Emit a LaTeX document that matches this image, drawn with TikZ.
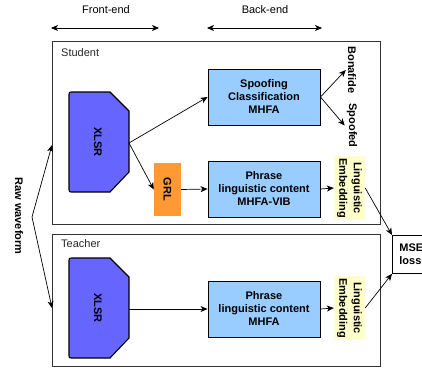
\documentclass[tikz,border=0pt]{standalone}
\usepackage{fontspec}
\setmainfont{Liberation Sans}
\usetikzlibrary{arrows.meta,positioning}
\definecolor{xlsrblue}{HTML}{6666FF}
\definecolor{mhfablue}{HTML}{99CCFF}
\definecolor{grlorange}{HTML}{FF9933}
\definecolor{embyellow}{HTML}{FFFFCC}
\tikzset{>={Stealth[length=7pt,width=6pt,inset=2pt]}}
\tikzset{font=\fontsize{11}{13}\selectfont}
\tikzset{
  stagebox/.style={draw=black!80, line width=0.9pt, minimum width=328, inner sep=0pt, anchor=north west},
  xlsrshape/.style={draw, line width=1.1pt, fill=xlsrblue},
  mhfabox/.style={draw, line width=0.9pt, fill=mhfablue, minimum width=112,
    minimum height=56, align=center, font=\fontsize{11}{13}\selectfont\bfseries, inner sep=0pt},
  grlbox/.style={fill=grlorange, rotate=-90, minimum width=53, minimum height=27,
    font=\fontsize{11}{13}\selectfont\bfseries, inner sep=0pt},
  embbox/.style={fill=embyellow, rotate=-90, minimum width=64, minimum height=31, align=center,
    font=\fontsize{11}{14.5}\selectfont\bfseries, inner sep=0pt},
  sidelabel/.style={rotate=-90, font=\fontsize{11}{13}\selectfont\bfseries, inner sep=2pt},
  conn/.style={->, line width=0.7pt},
}
\begin{document}
\begin{tikzpicture}[x=1pt, y=-1pt]
  \clip (0,0) rectangle (422,372);
  \useasboundingbox (0,0) rectangle (422,372);
  % front-end / back-end spans
  \node (fe) at (106,10) {Front-end};
  \node (be) at (265,10) {Back-end};
  \coordinate (feL) at (51,28);
  \coordinate (feR) at (159,28);
  \coordinate (beL) at (207,28);
  \coordinate (beR) at (322,28);
  \draw[<->, line width=0.7pt] (feL) -- (feR);
  \draw[<->, line width=0.7pt] (beL) -- (beR);
  % student and teacher frames
  \node[stagebox, minimum height=183] (student) at (52,41) {};
  \node[stagebox, minimum height=132] (teacher) at (52,234) {};
  \node[anchor=west, inner sep=0pt, text=black!85] (studentlbl) at (61,53) {Student};
  \node[anchor=west, inner sep=0pt, text=black!85] (teacherlbl) at (61,244) {Teacher};
  % XLSR front-ends
  \draw[xlsrshape] (73,92) -- (110,92) -- (129,111) -- (129,172) -- (110,192) -- (73,192)
    .. controls (69,192) .. (69,188) -- (69,96) .. controls (69,92) .. (73,92) -- cycle;
  \node[sidelabel] (xlsrS) at (98,142) {XLSR};
  \coordinate (xlsrSout) at (129,143);
  \begin{scope}[shift={(0,166)}]
    \draw[xlsrshape] (73,92) -- (110,92) -- (129,111) -- (129,172) -- (110,192) -- (73,192)
      .. controls (69,192) .. (69,188) -- (69,96) .. controls (69,92) .. (73,92) -- cycle;
    \node[sidelabel] (xlsrT) at (98,142) {XLSR};
    \coordinate (xlsrTout) at (129,143);
  \end{scope}
  % back-ends
  \node[mhfabox] (spoof) at (264,97) {Spoofing\\Classification\\MHFA};
  \node[mhfabox] (phraseS) at (264,189) {Phrase\\linguistic content\\MHFA-VIB};
  \node[mhfabox] (phraseT) at (264,309) {Phrase\\linguistic content\\MHFA};
  \node[grlbox] (grl) at (167.5,189.5) {GRL};
  \node[embbox] (embS) at (349.5,188) {Linguistic\\Embedding};
  \node[embbox] (embT) at (349.5,308) {Linguistic\\Embedding};
  \node[sidelabel] (bona) at (352,70) {Bonafide};
  \node[sidelabel] (spoofed) at (352,125.5) {Spoofed};
  \node[draw, line width=0.8pt, fill=white, anchor=north west, inner xsep=7pt, text width=30pt,
    minimum height=38, align=left, font=\fontsize{11}{13}\selectfont\bfseries] (mse) at (392,235) {MSE\\loss};
  % raw waveform input
  \node[sidelabel] (raw) at (19,216) {Raw waveform};
  \coordinate (rawsplit) at (32,217);
  \coordinate (rawS) at (52,145);
  \coordinate (rawT) at (52,308);
  \draw[conn] (rawsplit) -- (rawS);
  \draw[conn] (rawsplit) -- (rawT);
  % connectors
  \draw[conn] (xlsrSout) -- (spoof.west);
  \draw[conn] (xlsrSout) -- (grl.south);
  \draw[conn] (grl.north) -- (phraseS.west);
  \draw[conn] (phraseS.east) -- (embS.south);
  \draw[conn] (spoof.east) -- (bona.south);
  \draw[conn] (spoof.east) -- (spoofed.south);
  \draw[conn] (xlsrTout) -- (phraseT.west);
  \draw[conn] (phraseT.east) -- (embT.south);
  \draw[conn] (embS.north) -- (mse.north west);
  \draw[conn] (embT.north) -- (mse.south west);
\end{tikzpicture}
\end{document}
